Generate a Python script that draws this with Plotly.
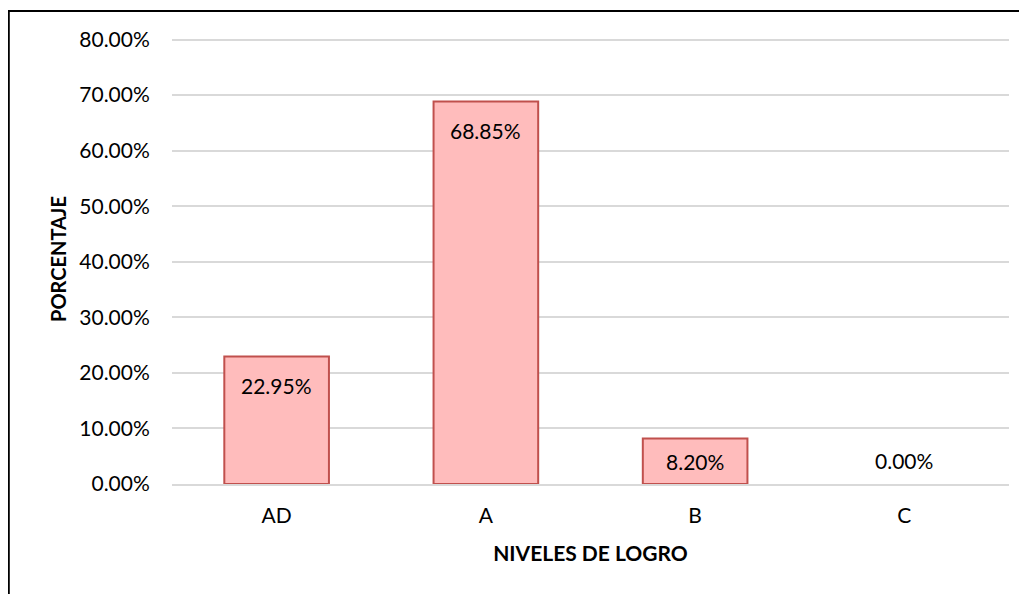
import plotly.graph_objects as go

# ---------------------------------------------------------------------------
# Data
# ---------------------------------------------------------------------------
niveles = ["AD", "A", "B", "C"]
porcentajes = [0.2295, 0.6885, 0.0820, 0.0]
y_ticks = [0.0, 0.1, 0.2, 0.3, 0.4, 0.5, 0.6, 0.7, 0.8]

_FONT = "Lato, 'Open Sans', sans-serif"
_FILL = "#ffbcbc"
_EDGE = "#c0504d"
_GRID = "#d9d9d9"

fig = go.Figure()

fig.add_trace(go.Bar(
    x=niveles,
    y=porcentajes,
    width=0.5,
    marker=dict(
        color=_FILL,
        line=dict(color=_EDGE, width=[2 if v > 0 else 0 for v in porcentajes]),
    ),
    hovertemplate="%{x}: %{y:.2%}<extra></extra>",
))

# data labels: inside the bar near its top, above the base for empty bars
for cat, val in zip(niveles, porcentajes):
    if val > 0:
        y_lab, shift = max(val - 0.052, val / 2), 0
    else:
        y_lab, shift = val, 24
    fig.add_annotation(
        x=cat, y=y_lab, yshift=shift,
        text=f"{val:.2%}",
        showarrow=False,
        font=dict(family=_FONT, size=21, color="#000000"),
    )

# outer chart border (open at right/bottom, as in the cropped original)
fig.add_shape(
    type="rect", xref="paper", yref="paper",
    x0=-0.195, x1=1.2, y0=-0.5, y1=1.051,
    line=dict(color="#000000", width=2),
    fillcolor="rgba(0,0,0,0)", layer="above",
)

fig.update_layout(
    width=1019,
    height=586,
    paper_bgcolor="white",
    plot_bgcolor="white",
    showlegend=False,
    margin=dict(l=164, r=18, t=26, b=110),
    font=dict(family=_FONT, size=21, color="#000000"),
    xaxis=dict(
        title=dict(text="<b>NIVELES DE LOGRO</b>", font=dict(size=21), standoff=20),
        showline=True, linecolor=_GRID, linewidth=1.5,
        ticks="outside", ticklen=12, tickcolor="rgba(0,0,0,0)",
        showgrid=False,
    ),
    yaxis=dict(
        title=dict(text="<b>PORCENTAJE</b>", font=dict(size=20), standoff=7),
        range=[0, 0.81],
        tickvals=y_ticks,
        tickformat=".2%",
        showgrid=True, gridcolor=_GRID, gridwidth=1.5,
        zeroline=False,
        ticks="outside", ticklen=17, tickcolor="rgba(0,0,0,0)",
    ),
)

fig.write_html("out.html")
